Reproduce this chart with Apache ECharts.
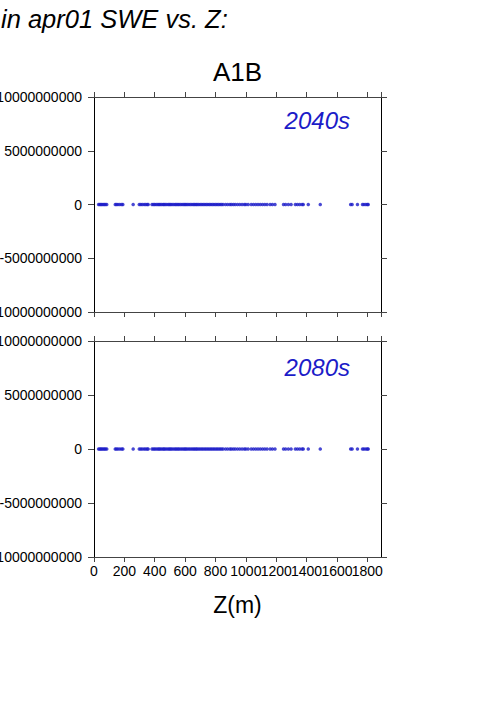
<!DOCTYPE html>
<html>
<head>
<meta charset="utf-8">
<script src="https://cdn.jsdelivr.net/npm/echarts@6/dist/echarts.min.js"></script>
<style>
html,body{margin:0;padding:0;background:#fff;}
#chart{width:501px;height:709px;}
</style>
</head>
<body>
<div id="chart"></div>
<script>
// ---- data ----
const titleText = 'in apr01 SWE vs. Z:';
const scenario = 'A1B';
const panelLabels = ['2040s', '2080s'];
const xAxisName = 'Z(m)';
const xTicks = [0, 200, 400, 600, 800, 1000, 1200, 1400, 1600, 1800];
const yTicks = [-10000000000, -5000000000, 0, 5000000000, 10000000000];

// elevations of stations (m)
const elevation = [
  30, 38, 45, 52, 60, 68, 75, 84,
  140, 148, 158, 170, 182, 190,
  258,
  298, 308, 318, 330, 340, 350, 357,
  382, 392, 400, 410, 420, 428, 436, 445, 455, 462,
  470, 480, 490, 498, 506, 515, 525, 535, 543, 552,
  560, 570, 580, 590, 598, 606, 615, 625, 635, 645,
  655, 663, 672, 680, 690, 700, 710, 720, 730, 740,
  750, 760, 770, 780, 790, 800, 810, 820, 830, 840,
  850,
  866, 880, 895, 905, 918, 930, 945, 960, 975, 990,
  1000, 1015, 1035, 1050, 1065, 1080, 1095, 1110, 1125, 1140,
  1160, 1175, 1192,
  1248, 1262, 1280, 1298,
  1326, 1340, 1355, 1370, 1378,
  1411,
  1490,
  1690, 1700, 1735,
  1768, 1778, 1790, 1800, 1806
];
const swe2040 = [
  0,0,0,0,0,0,0,0,0,0,
  0,0,0,0,0,0,0,0,0,0,
  0,0,0,0,0,0,0,0,0,0,
  0,0,0,0,0,0,0,0,0,0,
  0,0,0,0,0,0,0,0,0,0,
  0,0,0,0,0,0,0,0,0,0,
  0,0,0,0,0,0,0,0,0,0,
  0,0,0,0,0,0,0,0,0,0,
  0,0,0,0,0,0,0,0,0,0,
  0,0,0,0,0,0,0,0,0,0,
  0,0,0,0,0,0,0,0,0,0,
  0,0,0,0,0
];
const swe2080 = [
  0,0,0,0,0,0,0,0,0,0,
  0,0,0,0,0,0,0,0,0,0,
  0,0,0,0,0,0,0,0,0,0,
  0,0,0,0,0,0,0,0,0,0,
  0,0,0,0,0,0,0,0,0,0,
  0,0,0,0,0,0,0,0,0,0,
  0,0,0,0,0,0,0,0,0,0,
  0,0,0,0,0,0,0,0,0,0,
  0,0,0,0,0,0,0,0,0,0,
  0,0,0,0,0,0,0,0,0,0,
  0,0,0,0,0,0,0,0,0,0,
  0,0,0,0,0
];

// ---- chart ----
const FONT = '"Liberation Sans", Arial, Helvetica, sans-serif';
const BLUE = '#1c1cc8';
const xMin = 0, xMax = 1890, xStep = 200;
const yMin = yTicks[0], yMax = yTicks[yTicks.length - 1], yStep = yTicks[1] - yTicks[0];

const chart = echarts.init(document.getElementById('chart'), null, { renderer: 'svg' });

const grids = [
  { left: 94, top: 97, width: 287, height: 215, containLabel: false, outerBoundsMode: 'none' },
  { left: 94, top: 341, width: 287, height: 216, containLabel: false, outerBoundsMode: 'none' }
];

function xAx(gi, pos, labels) {
  return {
    type: 'value', gridIndex: gi, position: pos, min: xMin, max: xMax, interval: xStep,
    axisLine: { show: true, onZero: false, lineStyle: { color: '#444', width: 1 } },
    axisTick: { show: true, inside: false, length: 5, lineStyle: { color: '#444', width: 1 } },
    axisLabel: {
      show: labels, margin: 7, color: '#000', fontSize: 14, fontFamily: FONT,
      showMaxLabel: false, hideOverlap: false,
      formatter: v => (xTicks.indexOf(v) >= 0 ? String(v) : '')
    },
    splitLine: { show: false }
  };
}
function yAx(gi, pos, labels) {
  return {
    type: 'value', gridIndex: gi, position: pos, min: yMin, max: yMax, interval: yStep,
    axisLine: { show: true, onZero: false, lineStyle: { color: '#000', width: 1 } },
    axisTick: { show: true, inside: false, length: 6, lineStyle: { color: '#444', width: 1 } },
    axisLabel: {
      show: labels, margin: 12, color: '#000', fontSize: 14, fontFamily: FONT,
      formatter: v => String(v)
    },
    splitLine: { show: false }
  };
}

const option = {
  animation: false,
  backgroundColor: '#fff',
  grid: grids,
  xAxis: [
    xAx(0, 'bottom', false), xAx(0, 'top', false),
    xAx(1, 'bottom', true), xAx(1, 'top', false)
  ],
  yAxis: [
    yAx(0, 'left', true), yAx(0, 'right', false),
    yAx(1, 'left', true), yAx(1, 'right', false)
  ],
  series: [
    {
      type: 'scatter', xAxisIndex: 0, yAxisIndex: 0,
      symbol: 'circle', symbolSize: 3.5,
      itemStyle: { color: BLUE },
      data: elevation.map((z, i) => [z, swe2040[i]])
    },
    {
      type: 'scatter', xAxisIndex: 2, yAxisIndex: 2,
      symbol: 'circle', symbolSize: 3.5,
      itemStyle: { color: BLUE },
      data: elevation.map((z, i) => [z, swe2080[i]])
    }
  ],
  graphic: [
    { type: 'text', x: 1, y: 19, style: { text: titleText, font: 'italic 25.5px ' + FONT, fill: '#000', textAlign: 'left', textVerticalAlign: 'middle' } },
    { type: 'text', x: 237.5, y: 72, style: { text: scenario, font: '26px ' + FONT, fill: '#000', textAlign: 'center', textVerticalAlign: 'middle' } },
    { type: 'text', x: 350, y: 120, style: { text: panelLabels[0], font: 'italic 24px ' + FONT, fill: BLUE, textAlign: 'right', textVerticalAlign: 'middle' } },
    { type: 'text', x: 350, y: 367, style: { text: panelLabels[1], font: 'italic 24px ' + FONT, fill: BLUE, textAlign: 'right', textVerticalAlign: 'middle' } },
    { type: 'text', x: 237.5, y: 605, style: { text: xAxisName, font: '23px ' + FONT, fill: '#000', textAlign: 'center', textVerticalAlign: 'middle' } }
  ]
};
chart.setOption(option);
</script>
</body>
</html>
